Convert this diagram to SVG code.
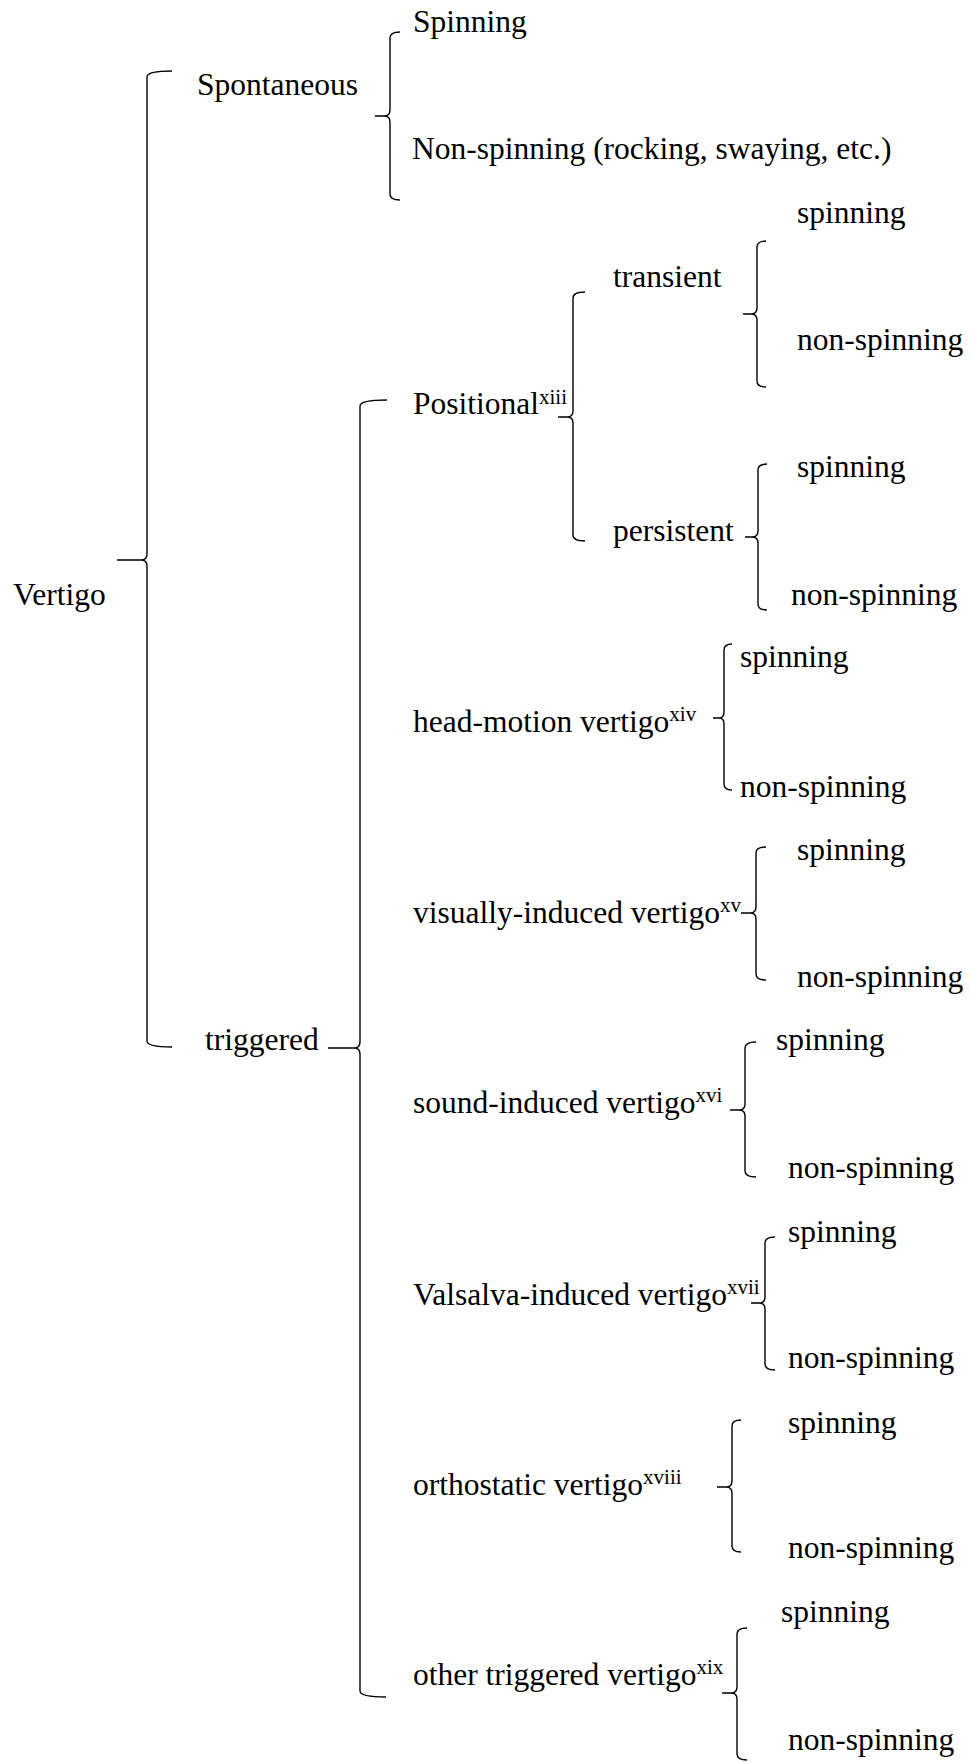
<svg xmlns="http://www.w3.org/2000/svg" width="970" height="1763" viewBox="0 0 970 1763">
<style>
text{font-family:"Liberation Serif","Times New Roman",serif;fill:#000;font-size:31.5px}
.s{font-size:21px}
.b{fill:none;stroke:#000;stroke-width:1.4;stroke-linejoin:round;stroke-linecap:butt}
</style>
<rect width="970" height="1763" fill="#fff"/>
<g id="connectors">
<path class="b" d="M172,71 Q147,71 147,77 L147,554 Q147,560 141,560 L117,560 M141,560 Q147,560 147,566 L147,1041 Q147,1047 172,1047"/>
<path class="b" d="M400,32 Q390,32 390,38 L390,110 Q390,116 384,116 L375,116 M384,116 Q390,116 390,122 L390,194 Q390,200 400,200"/>
<path class="b" d="M387,400 Q360,400 360,406 L360,1042 Q360,1048 354,1048 L328,1048 M354,1048 Q360,1048 360,1054 L360,1691 Q360,1697 386,1697"/>
<path class="b" d="M585,292 Q573,292 573,298 L573,411 Q573,417 567,417 L558,417 M567,417 Q573,417 573,423 L573,535 Q573,541 585,541"/>
<path class="b" d="M766,241 Q757,241 757,247 L757,308 Q757,314 751,314 L743,314 M751,314 Q757,314 757,320 L757,381 Q757,387 766,387"/>
<path class="b" d="M767,464 Q758,464 758,470 L758,531 Q758,537 752,537 L745,537 M752,537 Q758,537 758,543 L758,604 Q758,610 767,610"/>
<path class="b" d="M732,644 Q724,644 724,650 L724,712 Q724,718 719,718 L713,718 M719,718 Q724,718 724,724 L724,784 Q724,790 732,790"/>
<path class="b" d="M766,847 Q756,847 756,853 L756,907 Q756,913 750,913 L741,913 M750,913 Q756,913 756,919 L756,974 Q756,980 766,980"/>
<path class="b" d="M756,1042 Q745,1042 745,1048 L745,1104 Q745,1110 739,1110 L730,1110 M739,1110 Q745,1110 745,1116 L745,1171 Q745,1177 756,1177"/>
<path class="b" d="M775,1237 Q765,1237 765,1243 L765,1297 Q765,1303 759,1303 L751,1303 M759,1303 Q765,1303 765,1309 L765,1364 Q765,1370 775,1370"/>
<path class="b" d="M741,1420 Q732,1420 732,1426 L732,1481 Q732,1487 726,1487 L717,1487 M726,1487 Q732,1487 732,1493 L732,1546 Q732,1552 741,1552"/>
<path class="b" d="M747,1628 Q737,1628 737,1634 L737,1687 Q737,1693 731,1693 L722,1693 M731,1693 Q737,1693 737,1699 L737,1754 Q737,1760 747,1760"/>
</g>
<g id="n-vertigo"><text x="13" y="605">Vertigo</text></g>
<g id="n-spontaneous"><text x="197" y="95">Spontaneous</text></g>
<g id="n-spont-spinning"><text x="413" y="32">Spinning</text></g>
<g id="n-spont-nonspinning"><text x="412" y="159">Non-spinning (rocking, swaying, etc.)</text></g>
<g id="n-triggered"><text x="205" y="1050">triggered</text></g>
<g id="n-positional"><text x="413" y="414">Positional<tspan class="s" dy="-10">xiii</tspan></text></g>
<g id="n-transient"><text x="613" y="287">transient</text></g>
<g id="n-persistent"><text x="613" y="541">persistent</text></g>
<g id="n-tr-spinning"><text x="797" y="223">spinning</text></g>
<g id="n-tr-nonspinning"><text x="797" y="350">non-spinning</text></g>
<g id="n-pe-spinning"><text x="797" y="477">spinning</text></g>
<g id="n-pe-nonspinning"><text x="791" y="605">non-spinning</text></g>
<g id="n-headmotion"><text x="413" y="732">head-motion vertigo<tspan class="s" dy="-11">xiv</tspan></text></g>
<g id="n-hm-spinning"><text x="740" y="667">spinning</text></g>
<g id="n-hm-nonspinning"><text x="740" y="797">non-spinning</text></g>
<g id="n-visually"><text x="413" y="923">visually-induced vertigo<tspan class="s" dy="-11">xv</tspan></text></g>
<g id="n-vi-spinning"><text x="797" y="860">spinning</text></g>
<g id="n-vi-nonspinning"><text x="797" y="987">non-spinning</text></g>
<g id="n-sound"><text x="413" y="1113">sound-induced vertigo<tspan class="s" dy="-11">xvi</tspan></text></g>
<g id="n-so-spinning"><text x="776" y="1050">spinning</text></g>
<g id="n-so-nonspinning"><text x="788" y="1178">non-spinning</text></g>
<g id="n-valsalva"><text x="413" y="1305">Valsalva-induced vertigo<tspan class="s" dy="-11">xvii</tspan></text></g>
<g id="n-va-spinning"><text x="788" y="1242">spinning</text></g>
<g id="n-va-nonspinning"><text x="788" y="1368">non-spinning</text></g>
<g id="n-orthostatic"><text x="413" y="1495">orthostatic vertigo<tspan class="s" dy="-11">xviii</tspan></text></g>
<g id="n-or-spinning"><text x="788" y="1433">spinning</text></g>
<g id="n-or-nonspinning"><text x="788" y="1558">non-spinning</text></g>
<g id="n-other"><text x="413" y="1685">other triggered vertigo<tspan class="s" dy="-11">xix</tspan></text></g>
<g id="n-ot-spinning"><text x="781" y="1622">spinning</text></g>
<g id="n-ot-nonspinning"><text x="788" y="1750">non-spinning</text></g>
</svg>
